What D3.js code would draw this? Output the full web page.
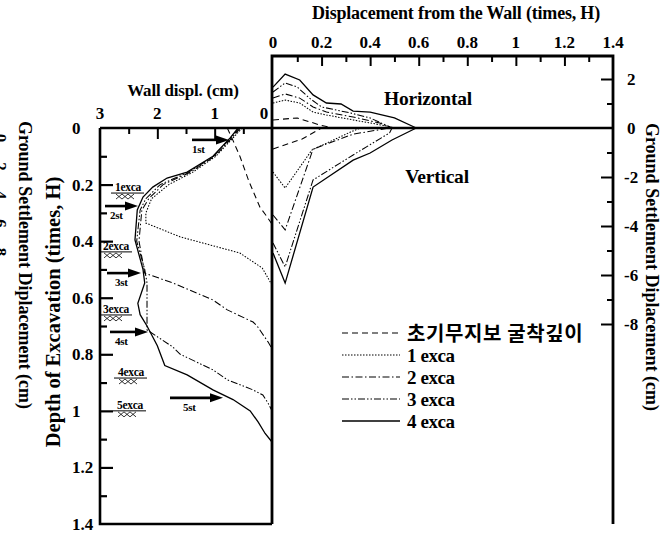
<!DOCTYPE html>
<html>
<head>
<meta charset="utf-8">
<script src="https://cdn.jsdelivr.net/npm/d3@7"></script>
<style>
  body { margin: 0; background: #fff; }
  svg { display: block; }
  text { font-family: "Liberation Serif", "Times New Roman", serif; font-weight: bold; fill: #000; }
</style>
</head>
<body>
<svg id="chart" width="670" height="535"></svg>
<script>
// ---- data -----------------------------------------------------------------
const seriesNames = ["초기무지보 굴착깊이", "1 exca", "2 exca", "3 exca", "4 exca"];
const seriesDash  = ["6,4", "1.5,1.5", "7,2.5,1.5,2.5", "7,2,1.5,2,1.5,2", null];

// wall displacement profiles: [depth (times H), displacement (cm)]
const wallInit = [[0,0.78],[0.035,0.7],[0.1,0.56],[0.19,0.4],[0.28,0.21],[0.31,0.1],[0.34,0.0]];
const wallExca1 = [[0,0.52],[0.035,0.68],[0.1,0.98],[0.156,1.38],[0.2,1.8],[0.25,2.1],[0.3,2.2],[0.336,2.2],[0.385,1.6],[0.442,0.56],[0.495,0.17],[0.555,0.0]];
const wallExca2 = [[0,0.55],[0.035,0.7],[0.1,1.0],[0.156,1.42],[0.2,1.9],[0.25,2.15],[0.29,2.27],[0.4,2.32],[0.513,2.22],[0.548,1.73],[0.608,1.03],[0.643,0.78],[0.686,0.33],[0.7,0.26],[0.756,0.07],[0.78,0.0]];
const wallExca3 = [[0,0.57],[0.035,0.72],[0.1,1.02],[0.156,1.45],[0.2,1.95],[0.25,2.2],[0.29,2.3],[0.4,2.36],[0.5,2.22],[0.548,2.18],[0.714,2.18],[0.774,1.73],[0.8,1.6],[0.855,1.03],[0.89,0.78],[0.926,0.33],[0.944,0.16],[0.972,0.07],[1.0,0.0]];
const wallExca4 = [[0,0.59],[0.035,0.73],[0.1,1.03],[0.156,1.48],[0.177,1.83],[0.209,2.08],[0.244,2.25],[0.29,2.35],[0.396,2.39],[0.5,2.25],[0.548,2.22],[0.62,2.34],[0.66,2.3],[0.7,2.18],[0.77,2.0],[0.84,1.87],[0.873,1.48],[0.926,1.03],[0.96,0.68],[1.0,0.38],[1.04,0.24],[1.08,0.12],[1.11,0.0]];

// horizontal ground displacement: [distance (times H), displacement (cm)]
const horInit  = [[0,0.33],[0.1,0.41],[0.2,0.1],[0.25,0]];
const horExca1 = [[0,1.02],[0.05,1.14],[0.11,1.02],[0.165,0.65],[0.22,0.53],[0.33,0.33],[0.47,0.08],[0.5,0]];
const horExca2 = [[0,1.22],[0.05,1.39],[0.11,1.22],[0.165,0.86],[0.22,0.65],[0.33,0.45],[0.44,0.2],[0.49,0]];
const horExca3 = [[0,1.47],[0.05,1.84],[0.1,1.67],[0.15,1.22],[0.2,0.86],[0.32,0.61],[0.4,0.41],[0.49,0]];
const horExca4 = [[0,1.67],[0.05,2.2],[0.11,1.96],[0.165,1.35],[0.22,1.02],[0.28,0.98],[0.33,0.69],[0.4,0.65],[0.5,0.41],[0.59,0]];

// ground settlement: [distance (times H), settlement (cm)]
const verInit  = [[0,-0.86],[0.12,-0.45],[0.2,0]];
const verExca1 = [[0,-1.8],[0.05,-2.45],[0.16,-0.9],[0.32,-0.16],[0.36,0]];
const verExca2 = [[0,-3.55],[0.05,-4.16],[0.165,-0.86],[0.33,-0.25],[0.48,0]];
const verExca3 = [[0,-4.69],[0.05,-5.67],[0.165,-2.12],[0.33,-1.1],[0.48,-0.2],[0.49,0]];
const verExca4 = [[0,-5.1],[0.05,-6.33],[0.165,-2.41],[0.33,-1.31],[0.4,-1.02],[0.49,-0.49],[0.59,0]];

// strut levels and excavation levels (times H)
const strutNames  = ["1st", "2st", "3st", "4st", "5st"];
const strutDepths = [0.042, 0.276, 0.513, 0.721, 0.954];
const excaNames   = ["1exca", "2exca", "3exca", "4exca", "5exca"];
const excaDepths  = [0.23, 0.438, 0.661, 0.884, 1.0];

// tick labels
const wallTicks  = [3, 2, 1, 0];
const depthTicks = [0, 0.2, 0.4, 0.6, 0.8, 1, 1.2, 1.4];
const distTicks  = [0, 0.2, 0.4, 0.6, 0.8, 1, 1.2, 1.4];
const settleTicks = [2, 0, -2, -4, -6, -8];
const edgeTicks = [0, 2, 4, 6, 8];

// ---- layout ---------------------------------------------------------------
const wallSeries = [wallInit, wallExca1, wallExca2, wallExca3, wallExca4];
const horSeries  = [horInit, horExca1, horExca2, horExca3, horExca4];
const verSeries  = [verInit, verExca1, verExca2, verExca3, verExca4];

const svg = d3.select("#chart");
svg.append("rect").attr("width", 670).attr("height", 535).attr("fill", "#fff");

const L = { left: 100, right: 272, top: 128, bottom: 524 };
const R = { left: 272, right: 613, top: 56, bottom: 524 };

const xWall  = d3.scaleLinear().domain([3, 0]).range([L.left, L.right]);
const yDepth = d3.scaleLinear().domain([0, 1.4]).range([L.top, L.bottom]);
const xDist  = d3.scaleLinear().domain([0, 1.4]).range([R.left + 1, R.right]);
const ySet   = d3.scaleLinear().domain([0, -8]).range([L.top, L.top + 196]);

const black = "#000";

// helper: axis with ticks pointing inward, no domain line
function tickAxis(axisFn, scale, values, len, translate, width) {
  const g = svg.append("g").attr("transform", translate)
    .call(axisFn(scale).tickValues(values).tickSize(len).tickFormat(""));
  g.select(".domain").remove();
  g.selectAll(".tick line").attr("stroke", black).attr("stroke-width", width);
  return g;
}

// left panel: top axis (wall displacement)
tickAxis(d3.axisBottom, xWall, [2.5, 1.5, 0.5], 6, `translate(0,${L.top})`, 2);
tickAxis(d3.axisBottom, xWall, [2, 1], 11, `translate(0,${L.top})`, 2);
svg.append("g").selectAll("text").data(wallTicks).join("text")
  .attr("x", d => d === 0 ? xWall(d) - 8 : xWall(d))
  .attr("y", 119).attr("text-anchor", "middle").attr("font-size", 17).text(d => d);
svg.append("text").attr("x", 183).attr("y", 96).attr("text-anchor", "middle")
  .attr("font-size", 17).attr("letter-spacing", -0.2).text("Wall displ. (cm)");

// left panel: depth axis
tickAxis(d3.axisRight, yDepth, d3.range(1, 14, 2).map(d => d / 10), 7, `translate(${L.left},0)`, 2.2);
tickAxis(d3.axisRight, yDepth, [0.2, 0.4, 0.6, 0.8, 1, 1.2], 13, `translate(${L.left},0)`, 2.2);
svg.append("g").selectAll("text").data(depthTicks).join("text")
  .attr("x", 72).attr("y", d => yDepth(d) + 6).attr("text-anchor", "start")
  .attr("font-size", 17).text(d => d);
svg.append("text").attr("transform", "translate(60,312) rotate(-90)")
  .attr("text-anchor", "middle").attr("font-size", 20.5).text("Depth of Excavation (times, H)");

// right panel: top axis (distance from wall)
tickAxis(d3.axisBottom, xDist, d3.range(1, 14, 2).map(d => d / 10), 6, `translate(0,${R.top})`, 2);
tickAxis(d3.axisBottom, xDist, [0.2, 0.4, 0.6, 0.8, 1, 1.2], 10, `translate(0,${R.top})`, 2);
svg.append("g").selectAll("text").data(distTicks).join("text")
  .attr("x", d => xDist(d)).attr("y", 48).attr("text-anchor", "middle")
  .attr("font-size", 17).text(d => d);
svg.append("text").attr("x", 456).attr("y", 19).attr("text-anchor", "middle")
  .attr("font-size", 18).attr("letter-spacing", -0.2).text("Displacement from the Wall (times, H)");

// right panel: settlement axis
tickAxis(d3.axisLeft, ySet, [1, -1, -3, -5, -7], 6, `translate(${R.right},0)`, 2);
tickAxis(d3.axisLeft, ySet, [2, -2, -4, -6, -8], 12, `translate(${R.right},0)`, 2);
svg.append("g").selectAll("text").data(settleTicks).join("text")
  .attr("x", d => d < 0 ? 624 : 627).attr("y", d => ySet(d) + 6).attr("text-anchor", "start")
  .attr("font-size", 17).text(d => d);
svg.append("text").attr("transform", "translate(646,267) rotate(90)")
  .attr("text-anchor", "middle").attr("font-size", 18).text("Ground Settlement Diplacement (cm)");

// the same settlement title, cut by the left edge of the page
svg.append("text").attr("transform", "translate(19,265) rotate(90)")
  .attr("text-anchor", "middle").attr("font-size", 18).text("Ground Settlement Diplacement (cm)");
svg.append("g").selectAll("text").data(edgeTicks).join("text")
  .attr("transform", (d, i) => `translate(-5,${138 + i * 28.5}) rotate(90)`)
  .attr("text-anchor", "middle").attr("font-size", 17).text(d => d);

// frames
const frame = svg.append("g").attr("stroke", black).attr("fill", "none");
frame.append("path").attr("stroke-width", 2.6)
  .attr("d", `M${L.left},${L.top}V${L.bottom}H${L.right}`);
frame.append("path").attr("stroke-width", 2.6)
  .attr("d", `M${L.left},${L.top}H${R.right}`);
frame.append("path").attr("stroke-width", 2.8)
  .attr("d", `M${R.left},${R.bottom}V${R.top}H${R.right}V${R.bottom}`);

// series lines
const wallLine = d3.line().x(d => xWall(d[1])).y(d => yDepth(d[0]));
const groundLine = d3.line().x(d => xDist(d[0])).y(d => ySet(d[1]));

const lines = svg.append("g").attr("fill", "none").attr("stroke", black);
[[wallSeries, wallLine], [horSeries, groundLine], [verSeries, groundLine]].forEach(([set, gen]) => {
  set.forEach((s, i) => {
    lines.append("path").attr("d", gen(s)).attr("stroke-width", i === 4 ? 1.3 : 1.05)
      .attr("stroke-dasharray", seriesDash[i]);
  });
});

// panel captions
svg.append("text").attr("x", 428).attr("y", 105).attr("text-anchor", "middle")
  .attr("font-size", 19.5).attr("letter-spacing", -0.2).text("Horizontal");
svg.append("text").attr("x", 437).attr("y", 183).attr("text-anchor", "middle")
  .attr("font-size", 19.5).attr("letter-spacing", -0.2).text("Vertical");

// strut arrows: [shaft start x, tip x, label x]
const strutArrowX = [[192, 229, 192], [105, 138, 110], [107, 141, 115], [110, 148, 115], [170, 223, 183]];
const arrows = svg.append("g");
strutDepths.forEach((d, i) => {
  const y = yDepth(d);
  const [x0, x1, lx] = strutArrowX[i];
  arrows.append("line").attr("x1", x0).attr("x2", x1 - 9).attr("y1", y).attr("y2", y)
    .attr("stroke", black).attr("stroke-width", 2.6);
  arrows.append("path").attr("d", `M${x1},${y}L${x1 - 13},${y - 4.5}L${x1 - 13},${y + 4.5}Z`).attr("fill", black);
  arrows.append("text").attr("x", lx).attr("y", y + 13).attr("font-size", 11)
    .attr("letter-spacing", -0.3).text(strutNames[i]);
});

// excavation levels: [label x]
const excaLabelX = [115, 103, 103, 118, 117];
const exca = svg.append("g");
excaDepths.forEach((d, i) => {
  const y = yDepth(d);
  const x = excaLabelX[i];
  exca.append("text").attr("x", x).attr("y", y - 2).attr("font-size", 11.5)
    .attr("letter-spacing", -0.3).text(excaNames[i]);
  exca.append("line").attr("x1", x - 4).attr("x2", x + 29).attr("y1", y).attr("y2", y)
    .attr("stroke", black).attr("stroke-width", 1);
  for (let k = 0; k < 3; k++) {
    const hx = x + 1 + k * 6;
    exca.append("path").attr("d", `M${hx},${y + 1}L${hx + 6},${y + 6}M${hx + 6},${y + 1}L${hx},${y + 6}`)
      .attr("stroke", black).attr("stroke-width", 0.8).attr("fill", "none");
  }
});

// legend
const legend = svg.append("g");
seriesNames.forEach((name, i) => {
  const y = 333 + i * 22;
  legend.append("line").attr("x1", 342).attr("x2", 400).attr("y1", y).attr("y2", y)
    .attr("stroke", black).attr("stroke-width", i === 4 ? 1.3 : 1.05).attr("stroke-dasharray", seriesDash[i]);
  const t = legend.append("text").attr("x", 407).attr("y", y + 7).attr("font-size", 19).text(name);
  if (i === 0) t.style("font-family", '"Noto Sans CJK KR", sans-serif').style("font-weight", 700)
    .attr("font-size", 20).attr("letter-spacing", 0.6).attr("y", y + 8);
  else t.attr("letter-spacing", -0.4);
});
</script>
</body>
</html>
